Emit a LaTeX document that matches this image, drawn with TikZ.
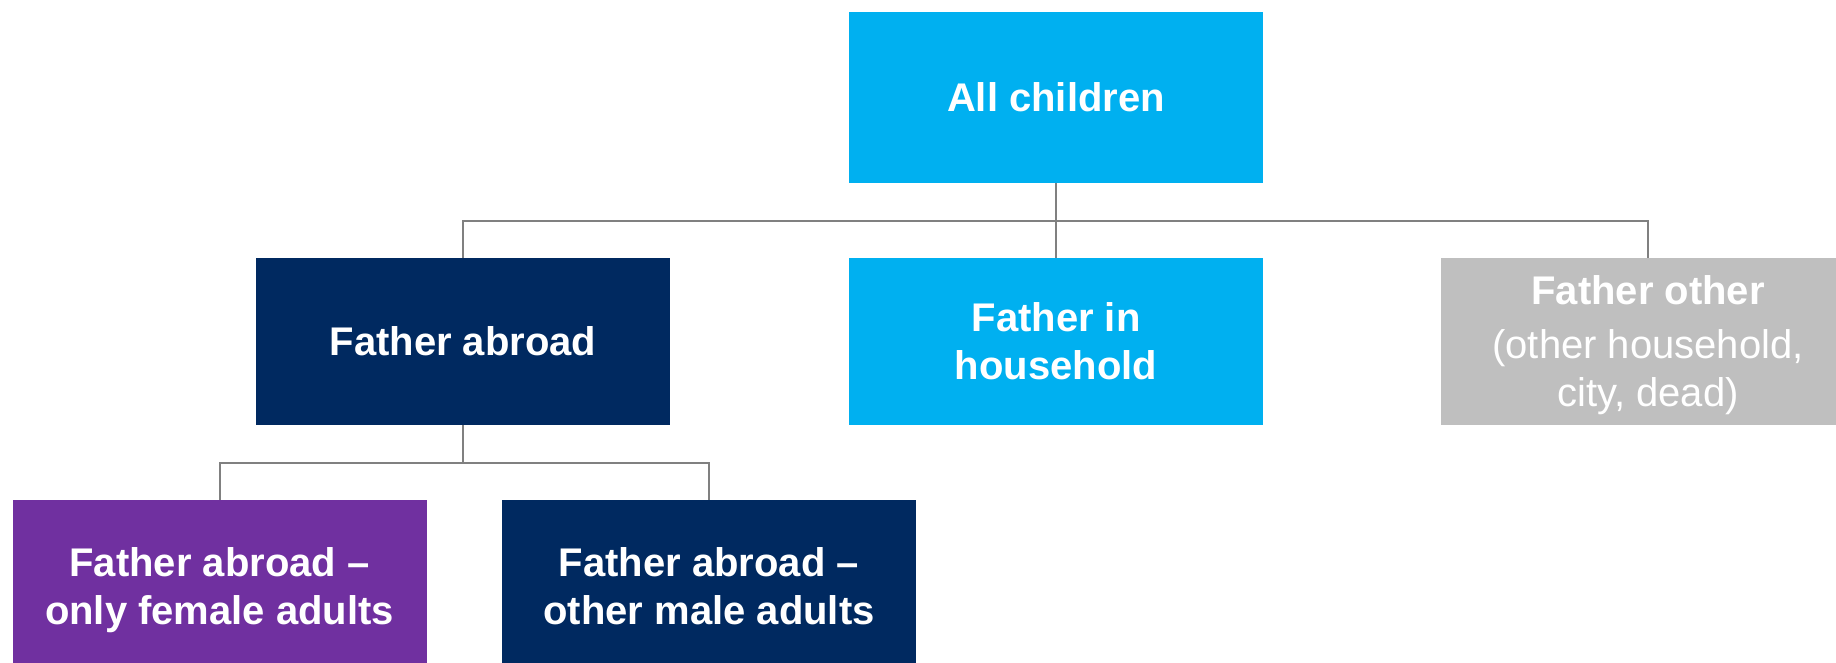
\documentclass[tikz,border=0pt]{standalone}
\usepackage{fontspec}
\setmainfont{Liberation Sans}
\usepackage{tikz}

\definecolor{skyblue}{HTML}{00B0F0}
\definecolor{navyblue}{HTML}{002960}
\definecolor{plum}{HTML}{7030A0}
\definecolor{lightgrey}{HTML}{BFBFBF}
\definecolor{linegrey}{HTML}{808080}

\begin{document}
\begin{tikzpicture}[
    x=0.5pt, y=-0.5pt,
    every node/.style={rectangle, minimum width=207pt, minimum height=83.5pt,
        inner sep=0pt, align=center, text=white,
        font=\fontsize{20pt}{24pt}\selectfont\bfseries},
    link/.style={draw=linegrey, line width=1pt}
]
\useasboundingbox (0,0) rectangle (1836,663);

% Top level
\node[fill=skyblue, minimum height=85.5pt] (all) at (1056,97.5) {All children};

% Second level
\node[fill=navyblue] (abroad) at (463,341.5) {Father abroad};
\node[fill=skyblue] (home) at (1056,341.5) {Father in\\household};
\node[fill=lightgrey] (other) at (1648,341.5)
    {\rule{0pt}{18pt}Father other\\[3pt]\mdseries(other household,\\\mdseries city, dead)};

% Third level
\node[fill=plum, minimum height=90pt] (female) at (219.5,590) {Father abroad –\\only female adults};
\node[fill=navyblue, minimum height=90pt] (male) at (709,590) {Father abroad –\\other male adults\vphantom{y}};

% Connectors
\draw[link] (all.south) -- ++(0,38) -| (abroad.north);
\draw[link] (all.south) -- ++(0,38) -| (home.north);
\draw[link] (all.south) -- ++(0,38) -| (other.north);
\draw[link] (abroad.south) -- ++(0,38) -| (female.north);
\draw[link] (abroad.south) -- ++(0,38) -| (male.north);

\end{tikzpicture}
\end{document}
